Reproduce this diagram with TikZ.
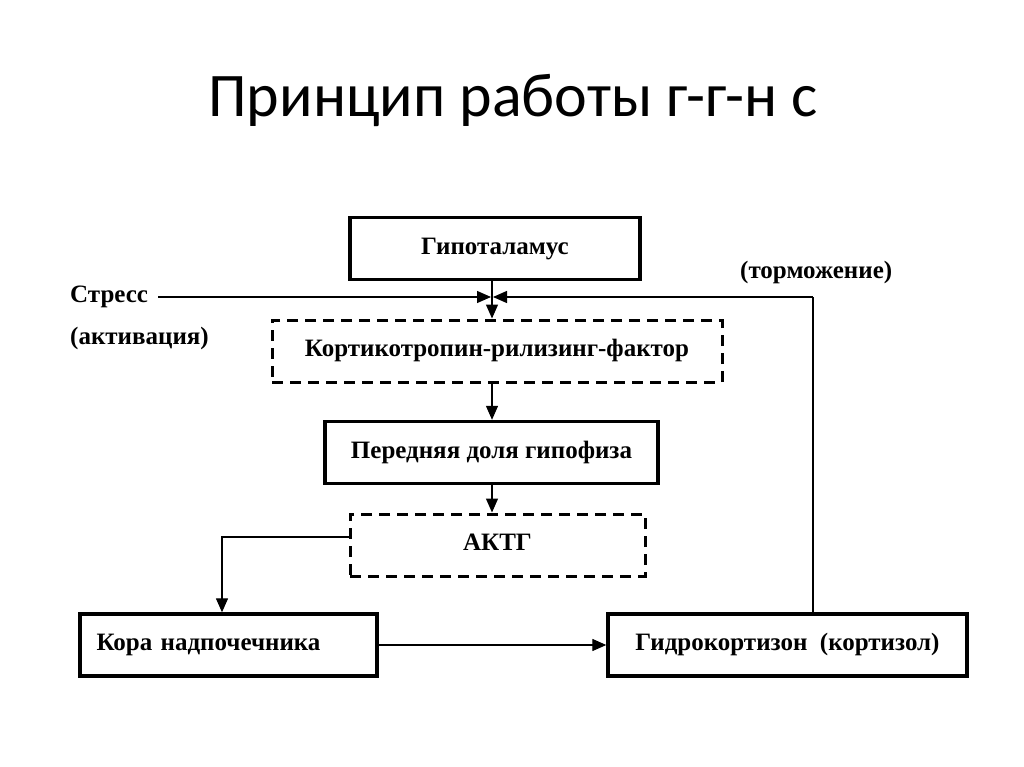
\documentclass[tikz,border=0pt]{standalone}
\usepackage{fontspec}
\setmainfont{Liberation Serif}
\newfontfamily\titlefont{Carlito}
\usetikzlibrary{arrows.meta}
\begin{document}
\begin{tikzpicture}[x=1pt,y=-1pt,
  txt/.style={font=\fontsize{25}{29}\selectfont\bfseries},
  boxsolid/.style={draw,line width=3.4pt,minimum height=62pt,inner sep=0pt,text height=17pt,text depth=6pt,txt},
  boxdash/.style={draw,line width=3pt,dash pattern=on 11pt off 7pt,minimum height=62pt,inner sep=0pt,text height=17pt,text depth=6pt,txt},
  conn/.style={line width=1.3pt,-{Triangle[length=14pt,width=12pt]}},
  plain/.style={line width=1.3pt},
  lbl/.style={txt,inner sep=0pt}]
\useasboundingbox (0,0) rectangle (1024,767);
\node[font=\titlefont\fontsize{62}{70}\selectfont] (title) at (513,100) {Принцип работы г-г-н с};
\node[boxsolid,minimum width=290pt] (hyp) at (495,248.5) {Гипоталамус};
\node[boxdash,minimum width=450pt] (crf) at (497,351) {Кортикотропин-рилизинг-фактор};
\node[boxsolid,minimum width=333pt] (pit) at (491.5,452.5) {Передняя доля гипофиза};
\node[boxdash,minimum width=295pt] (acth) at (497.5,545) {АКТГ};
\node[boxsolid,minimum width=297pt,text width=264pt,align=left] (cortex) at (228.5,645) {Кора надпочечника};
\node[boxsolid,minimum width=359pt] (hc) at (787.5,645) {Гидрокортизон\ \ (кортизол)};
\node[lbl,anchor=west] (stress) at (70,297) {Стресс};
\node[lbl,anchor=west] (act) at (70,338) {(активация)};
\node[lbl,anchor=west] (inh) at (740,272) {(торможение)};
\coordinate (jn) at (492,297);
\coordinate (fb) at (813,297);
\coordinate (bend) at (222,537);
\coordinate (sstart) at (158,297);
\draw[conn] (hyp.south -| jn) -- (crf.north -| jn);
\draw[conn] (sstart) -- ([xshift=-1pt]jn);
\draw[plain] (hc.north -| fb) -- (fb);
\draw[conn] (fb) -- ([xshift=1pt]jn);
\draw[conn] (crf.south -| jn) -- (pit.north -| jn);
\draw[conn] (pit.south -| jn) -- (acth.north -| jn);
\draw[conn] (acth.west |- bend) -- (bend) -- (cortex.north -| bend);
\draw[conn] (cortex.east) -- (hc.west);
\end{tikzpicture}
\end{document}
